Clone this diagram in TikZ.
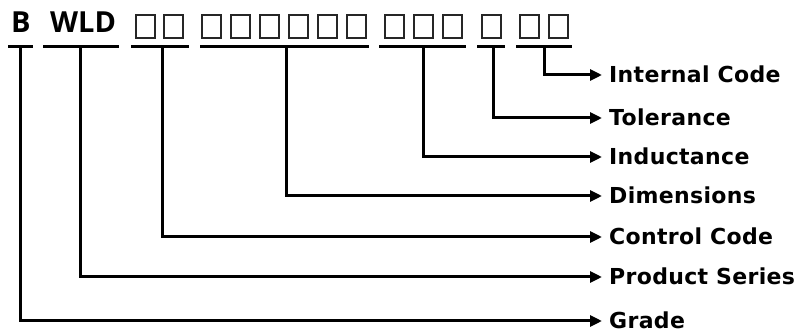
\documentclass[tikz,border=0pt]{standalone}
\usepackage{fontspec}
\setmainfont{Liberation Sans}
\newfontfamily\labfont[LetterSpace=1.5]{DejaVu Sans Bold}
\newfontfamily\codefont{Open Sans Bold}
\usetikzlibrary{arrows.meta}
\begin{document}
\begin{tikzpicture}[x=1pt,y=-1pt,
  bar/.style={line width=3pt},
  tofu/.style={draw=black!85,line width=1.5pt},
  conn/.style={line width=3pt,-{Triangle[length=12pt,width=11pt]}},
  lab/.style={anchor=west,inner xsep=7pt,inner ysep=0pt,text height=16pt,text depth=0pt,font=\labfont\fontsize{22}{26}\selectfont},
  code/.style={anchor=base west,inner sep=0pt,font=\codefont\fontsize{29}{34}\selectfont}]
\useasboundingbox (0,0) rectangle (808,336);
% code letters
\node[code] (tB) at (11,33) {B};
\node[code] (tW) at (50,33) {WLD};
% tofu boxes
\foreach \x in {135,163,201,230,259,288,317,346,384,413,442,481,519,548}
  \draw[tofu] (\x+0.8,14.8) rectangle (\x+20.2,38.2);
% underlines
\draw[bar] (8,47) -- (33,47);
\draw[bar] (43,47) -- (119,47);
\draw[bar] (131,47) -- (189,47);
\draw[bar] (200,47) -- (369,47);
\draw[bar] (379,47) -- (466,47);
\draw[bar] (477,47) -- (505,47);
\draw[bar] (516,47) -- (572,47);
% connector start points
\coordinate (cB) at (20,47);
\coordinate (cW) at (80,47);
\coordinate (cC) at (162,47);
\coordinate (cD) at (286,47);
\coordinate (cI) at (423,47);
\coordinate (cT) at (493,47);
\coordinate (cN) at (544,47);
% labels
\node[lab] (lN) at (602,75) {Internal Code};
\node[lab] (lT) at (602,118) {Tolerance};
\node[lab] (lI) at (602,157) {Inductance};
\node[lab] (lD) at (602,196) {Dimensions};
\node[lab] (lC) at (602,237) {Control Code};
\node[lab] (lW) at (602,277) {Product Series};
\node[lab] (lB) at (602,321) {Grade};
% connectors
\draw[conn] (cN) |- (lN.west);
\draw[conn] (cT) |- (lT.west);
\draw[conn] (cI) |- (lI.west);
\draw[conn] (cD) |- (lD.west);
\draw[conn] (cC) |- (lC.west);
\draw[conn] (cW) |- (lW.west);
\draw[conn] (cB) |- (lB.west);
\end{tikzpicture}
\end{document}
